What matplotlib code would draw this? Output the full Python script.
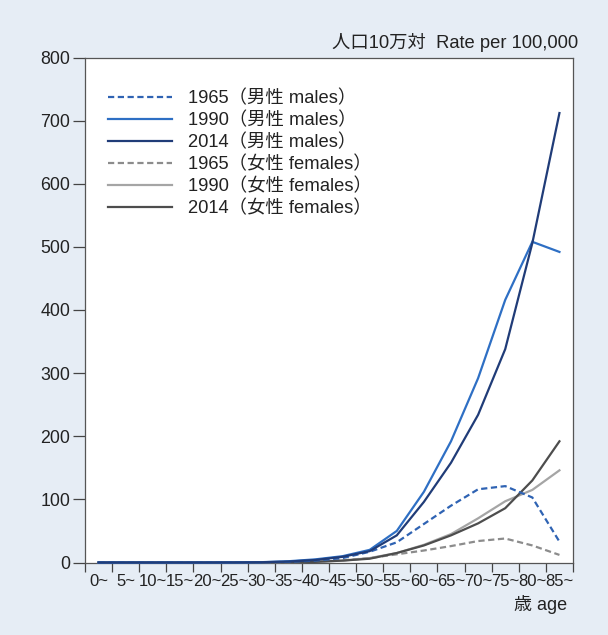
import matplotlib
matplotlib.use("Agg")
import matplotlib.pyplot as plt
import numpy as np

plt.rcParams['font.family'] = ['Liberation Sans', 'Noto Sans CJK JP']

age_labels = ["0~", "5~", "10~", "15~", "20~", "25~", "30~", "35~", "40~",
              "45~", "50~", "55~", "60~", "65~", "70~", "75~", "80~", "85~"]

male_1965 = [0.1, 0, 0, 0, 0, 0.1, 0.3, 1, 3, 7, 17, 32, 61, 90, 116, 121, 103, 33]
male_1990 = [0, 0, 0, 0, 0, 0.1, 0.5, 2, 5, 10, 20, 50, 112, 192, 292, 416, 508, 492]
male_2014 = [0, 0, 0, 0, 0, 0.1, 0.4, 1.5, 4, 9, 18, 43, 96, 158, 234, 338, 506, 712]
female_1965 = [0, 0, 0, 0, 0, 0, 0.2, 0.6, 1.5, 3.5, 7, 13, 19, 26, 34, 38, 27, 12]
female_1990 = [0, 0, 0, 0, 0, 0, 0.1, 0.4, 1.2, 3, 7, 15, 28, 45, 70, 97, 115, 146]
female_2014 = [0, 0, 0, 0, 0, 0, 0.1, 0.3, 1, 3, 6, 15, 27, 43, 62, 86, 130, 192]

series = [
    ("1965（男性 males）", male_1965, '#2f63b3', 'dash', 5),
    ("1990（男性 males）", male_1990, '#2e6fc4', 'solid', 6),
    ("2014（男性 males）", male_2014, '#203c78', 'solid', 6),
    ("1965（女性 females）", female_1965, '#8c8c8c', 'dash', 3),
    ("1990（女性 females）", female_1990, '#a5a5a5', 'solid', 3),
    ("2014（女性 females）", female_2014, '#4d4d4d', 'solid', 4),
]

fig = plt.figure(figsize=(6.08, 6.35), dpi=100, facecolor='#e6edf5')
ax = fig.add_axes([85 / 608, 1 - 562.5 / 635, 488 / 608, 505 / 635])
ax.set_facecolor('white')

x = np.arange(len(age_labels)) + 0.5
for label, vals, color, style, z in series:
    ls = (0, (2.8, 1.6)) if style == 'dash' else '-'
    ax.plot(x, vals, color=color, lw=1.6, linestyle=ls, label=label,
            zorder=z, clip_on=False, solid_joinstyle='miter')

ax.set_xlim(0, 18)
ax.set_ylim(0, 800)
ax.set_yticks(np.arange(0, 801, 100))
ax.set_xticks(np.arange(0, 19))
ax.set_xticklabels([])
ax.set_xticks(x, minor=True)
ax.set_xticklabels(age_labels, minor=True)
ax.tick_params(axis='x', which='major', length=6.5, width=0.9, direction='out', color='#444')
ax.tick_params(axis='x', which='minor', length=0, pad=8.5, labelsize=12, labelcolor='#222')
ax.tick_params(axis='y', length=9, width=0.9, direction='out', pad=1.5, labelsize=12.8,
               labelcolor='#222', color='#444')
for s in ax.spines.values():
    s.set_color('#555555')
    s.set_linewidth(0.9)

leg = ax.legend(loc='upper left', bbox_to_anchor=(108 / 608, 1 - 90 / 635),
                bbox_transform=fig.transFigure, frameon=False, fontsize=13.2,
                handlelength=3.5, handletextpad=0.85, labelspacing=0.25,
                borderpad=0, borderaxespad=0)
for t in leg.get_texts():
    t.set_color('#222')

fig.text(578 / 608, 1 - 42 / 635, "人口10万対  Rate per 100,000", ha='right', va='center',
         fontsize=13.2, color='#222')
fig.text(567 / 608, 1 - 605 / 635, "歳 age", ha='right', va='center',
         fontsize=13, color='#222')

fig.savefig("out.png", dpi=100, facecolor=fig.get_facecolor())
